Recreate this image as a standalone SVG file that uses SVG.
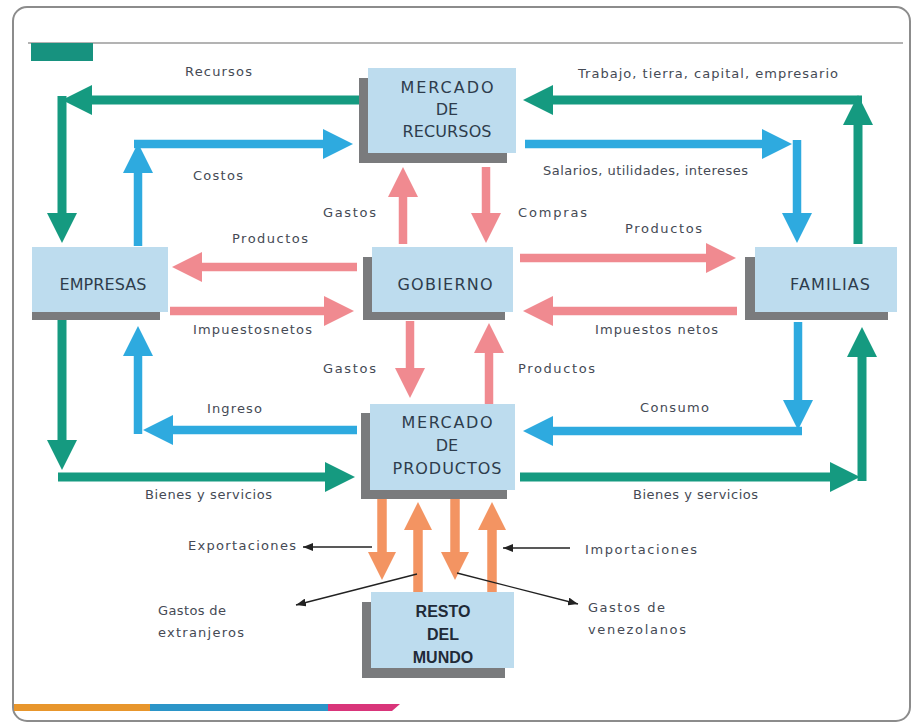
<svg xmlns="http://www.w3.org/2000/svg" width="912" height="723" viewBox="0 0 912 723">
<style>
.lbl{font-family:"DejaVu Sans","Liberation Sans",sans-serif;font-size:13px;fill:#454a55}
.box{fill:#bddcee}
.sh{fill:#7a7b7d}
.bt{font-family:"DejaVu Sans","Liberation Sans",sans-serif;font-size:16px;fill:#2e3c4c;text-anchor:middle}
.bb{font-family:"Liberation Sans","DejaVu Sans",sans-serif;font-size:16px;font-weight:bold;fill:#1f2a38;text-anchor:middle}
.t{fill:none;stroke:#159a80;stroke-width:9}
.b{fill:none;stroke:#2eaadf;stroke-width:8.5}
.p{fill:none;stroke:#f08a90;stroke-width:8.5}
.o{fill:none;stroke:#f39462;stroke-width:9.5}
.k{fill:none;stroke:#222;stroke-width:1.3}
</style>
<defs>
<marker id="mt" markerUnits="userSpaceOnUse" viewBox="0 0 30 30" markerWidth="30" markerHeight="30" refX="0" refY="15" orient="auto"><path d="M0,0 L30,15 L0,30 z" fill="#159a80"/></marker>
<marker id="mb" markerUnits="userSpaceOnUse" viewBox="0 0 30 30" markerWidth="30" markerHeight="30" refX="0" refY="15" orient="auto"><path d="M0,0 L30,15 L0,30 z" fill="#2eaadf"/></marker>
<marker id="mp" markerUnits="userSpaceOnUse" viewBox="0 0 30 30" markerWidth="30" markerHeight="30" refX="0" refY="15" orient="auto"><path d="M0,0 L30,15 L0,30 z" fill="#f08a90"/></marker>
<marker id="mo" markerUnits="userSpaceOnUse" viewBox="0 0 28 28" markerWidth="28" markerHeight="28" refX="0" refY="14" orient="auto"><path d="M0,0 L28,14 L0,28 z" fill="#f39462"/></marker>
<marker id="mk" markerUnits="userSpaceOnUse" viewBox="0 0 10 8" markerWidth="10" markerHeight="8" refX="10" refY="4" orient="auto"><path d="M0,0 L10,4 L0,8 z" fill="#222"/></marker>
</defs>
<rect width="912" height="723" fill="#ffffff"/>
<g id="frame">
<rect x="13" y="7" width="897" height="714" rx="14" fill="none" stroke="#8c8c8c" stroke-width="2"/>
<line x1="28" y1="43" x2="903" y2="43" stroke="#9a9a9a" stroke-width="1.5"/>
<rect x="31" y="43" width="62" height="18" fill="#17927f"/>
<rect x="14" y="704" width="136" height="7" fill="#e8962c"/>
<rect x="150" y="704" width="178" height="7" fill="#2b95c8"/>
<polygon points="328,704 400,704 392,711 328,711" fill="#d9357a"/>
</g>
<g id="connectors">
<path class="t" d="M360,100 H92" marker-end="url(#mt)"/>
<path class="t" d="M62,96 V213" marker-end="url(#mt)"/>
<path class="t" d="M858,244 V125" marker-end="url(#mt)"/>
<path class="t" d="M862,100 H553" marker-end="url(#mt)"/>
<path class="t" d="M62,320 V440" marker-end="url(#mt)"/>
<path class="t" d="M58,477 H325" marker-end="url(#mt)"/>
<path class="t" d="M520,477 H830" marker-end="url(#mt)"/>
<path class="t" d="M862,481 V357" marker-end="url(#mt)"/>
<path class="b" d="M138,246 V173" marker-end="url(#mb)"/>
<path class="b" d="M134,144 H323" marker-end="url(#mb)"/>
<path class="b" d="M525,144 H762" marker-end="url(#mb)"/>
<path class="b" d="M797,140 V213" marker-end="url(#mb)"/>
<path class="b" d="M357,430 H173" marker-end="url(#mb)"/>
<path class="b" d="M138,434 V356" marker-end="url(#mb)"/>
<path class="b" d="M798,322 V400" marker-end="url(#mb)"/>
<path class="b" d="M802,431 H553" marker-end="url(#mb)"/>
<path class="p" d="M403,244 V197" marker-end="url(#mp)"/>
<path class="p" d="M486,167 V213" marker-end="url(#mp)"/>
<path class="p" d="M357,267 H202" marker-end="url(#mp)"/>
<path class="p" d="M170,311 H324" marker-end="url(#mp)"/>
<path class="p" d="M520,258 H706" marker-end="url(#mp)"/>
<path class="p" d="M737,311 H553" marker-end="url(#mp)"/>
<path class="p" d="M410,321 V368" marker-end="url(#mp)"/>
<path class="p" d="M489,404 V353" marker-end="url(#mp)"/>
<path class="o" d="M382,499 V552" marker-end="url(#mo)"/>
<path class="o" d="M418,592 V530" marker-end="url(#mo)"/>
<path class="o" d="M455,499 V552" marker-end="url(#mo)"/>
<path class="o" d="M492,592 V530" marker-end="url(#mo)"/>
<path class="k" d="M372,547 H303" marker-end="url(#mk)"/>
<path class="k" d="M570,548 H503" marker-end="url(#mk)"/>
<path class="k" d="M417,574 L296,605" marker-end="url(#mk)"/>
<path class="k" d="M457,573 L578,604" marker-end="url(#mk)"/>
</g>
<g id="labels">
<text class="lbl" x="185" y="76" textLength="67">Recursos</text>
<text class="lbl" x="193" y="180" textLength="50">Costos</text>
<text class="lbl" x="578" y="78" textLength="260">Trabajo, tierra, capital, empresario</text>
<text class="lbl" x="543" y="175" textLength="205">Salarios, utilidades, intereses</text>
<text class="lbl" x="518" y="217" textLength="69">Compras</text>
<text class="lbl" x="625" y="233" textLength="77">Productos</text>
<text class="lbl" x="323" y="217" textLength="53">Gastos</text>
<text class="lbl" x="232" y="243" textLength="76">Productos</text>
<text class="lbl" x="193" y="334" textLength="119">Impuestosnetos</text>
<text class="lbl" x="595" y="334" textLength="123">Impuestos netos</text>
<text class="lbl" x="323" y="373" textLength="53">Gastos</text>
<text class="lbl" x="518" y="373" textLength="77">Productos</text>
<text class="lbl" x="207" y="413" textLength="55">Ingreso</text>
<text class="lbl" x="640" y="412" textLength="69">Consumo</text>
<text class="lbl" x="145" y="499" textLength="127">Bienes y servicios</text>
<text class="lbl" x="633" y="499" textLength="125">Bienes y servicios</text>
<text class="lbl" x="188" y="550" textLength="108">Exportaciones</text>
<text class="lbl" x="585" y="554" textLength="112">Importaciones</text>
<text class="lbl" x="158" y="615" textLength="68">Gastos de</text>
<text class="lbl" x="158" y="637" textLength="86">extranjeros</text>
<text class="lbl" x="588" y="612" textLength="77">Gastos de</text>
<text class="lbl" x="588" y="634" textLength="98">venezolanos</text>
</g>
<g id="mercado-recursos">
<rect class="sh" x="359" y="78" width="148" height="85"/>
<rect class="box" x="368" y="68" width="148" height="85"/>
<text class="bt" x="447" y="93" textLength="93">MERCADO</text>
<text class="bt" x="447" y="115">DE</text>
<text class="bt" x="447" y="137" textLength="89">RECURSOS</text>
</g>
<g id="empresas">
<rect class="sh" x="32" y="257" width="128" height="63"/>
<rect class="box" x="32" y="247" width="136" height="65"/>
<text class="bt" x="103" y="290" textLength="87">EMPRESAS</text>
</g>
<g id="gobierno">
<rect class="sh" x="363" y="257" width="142" height="63"/>
<rect class="box" x="372" y="247" width="141" height="65"/>
<text class="bt" x="445" y="290" textLength="95">GOBIERNO</text>
</g>
<g id="familias">
<rect class="sh" x="745" y="257" width="143" height="63"/>
<rect class="box" x="755" y="247" width="142" height="65"/>
<text class="bt" x="830" y="290" textLength="80">FAMILIAS</text>
</g>
<g id="mercado-productos">
<rect class="sh" x="361" y="413" width="146" height="86"/>
<rect class="box" x="370" y="404" width="145" height="86"/>
<text class="bt" x="447" y="428" textLength="91">MERCADO</text>
<text class="bt" x="447" y="451">DE</text>
<text class="bt" x="447" y="474" textLength="109">PRODUCTOS</text>
</g>
<g id="resto-del-mundo">
<rect class="sh" x="362" y="602" width="143" height="76"/>
<rect class="box" x="371" y="592" width="143" height="76"/>
<text class="bb" x="443" y="617">RESTO</text>
<text class="bb" x="443" y="640">DEL</text>
<text class="bb" x="443" y="663">MUNDO</text>
</g>
</svg>
